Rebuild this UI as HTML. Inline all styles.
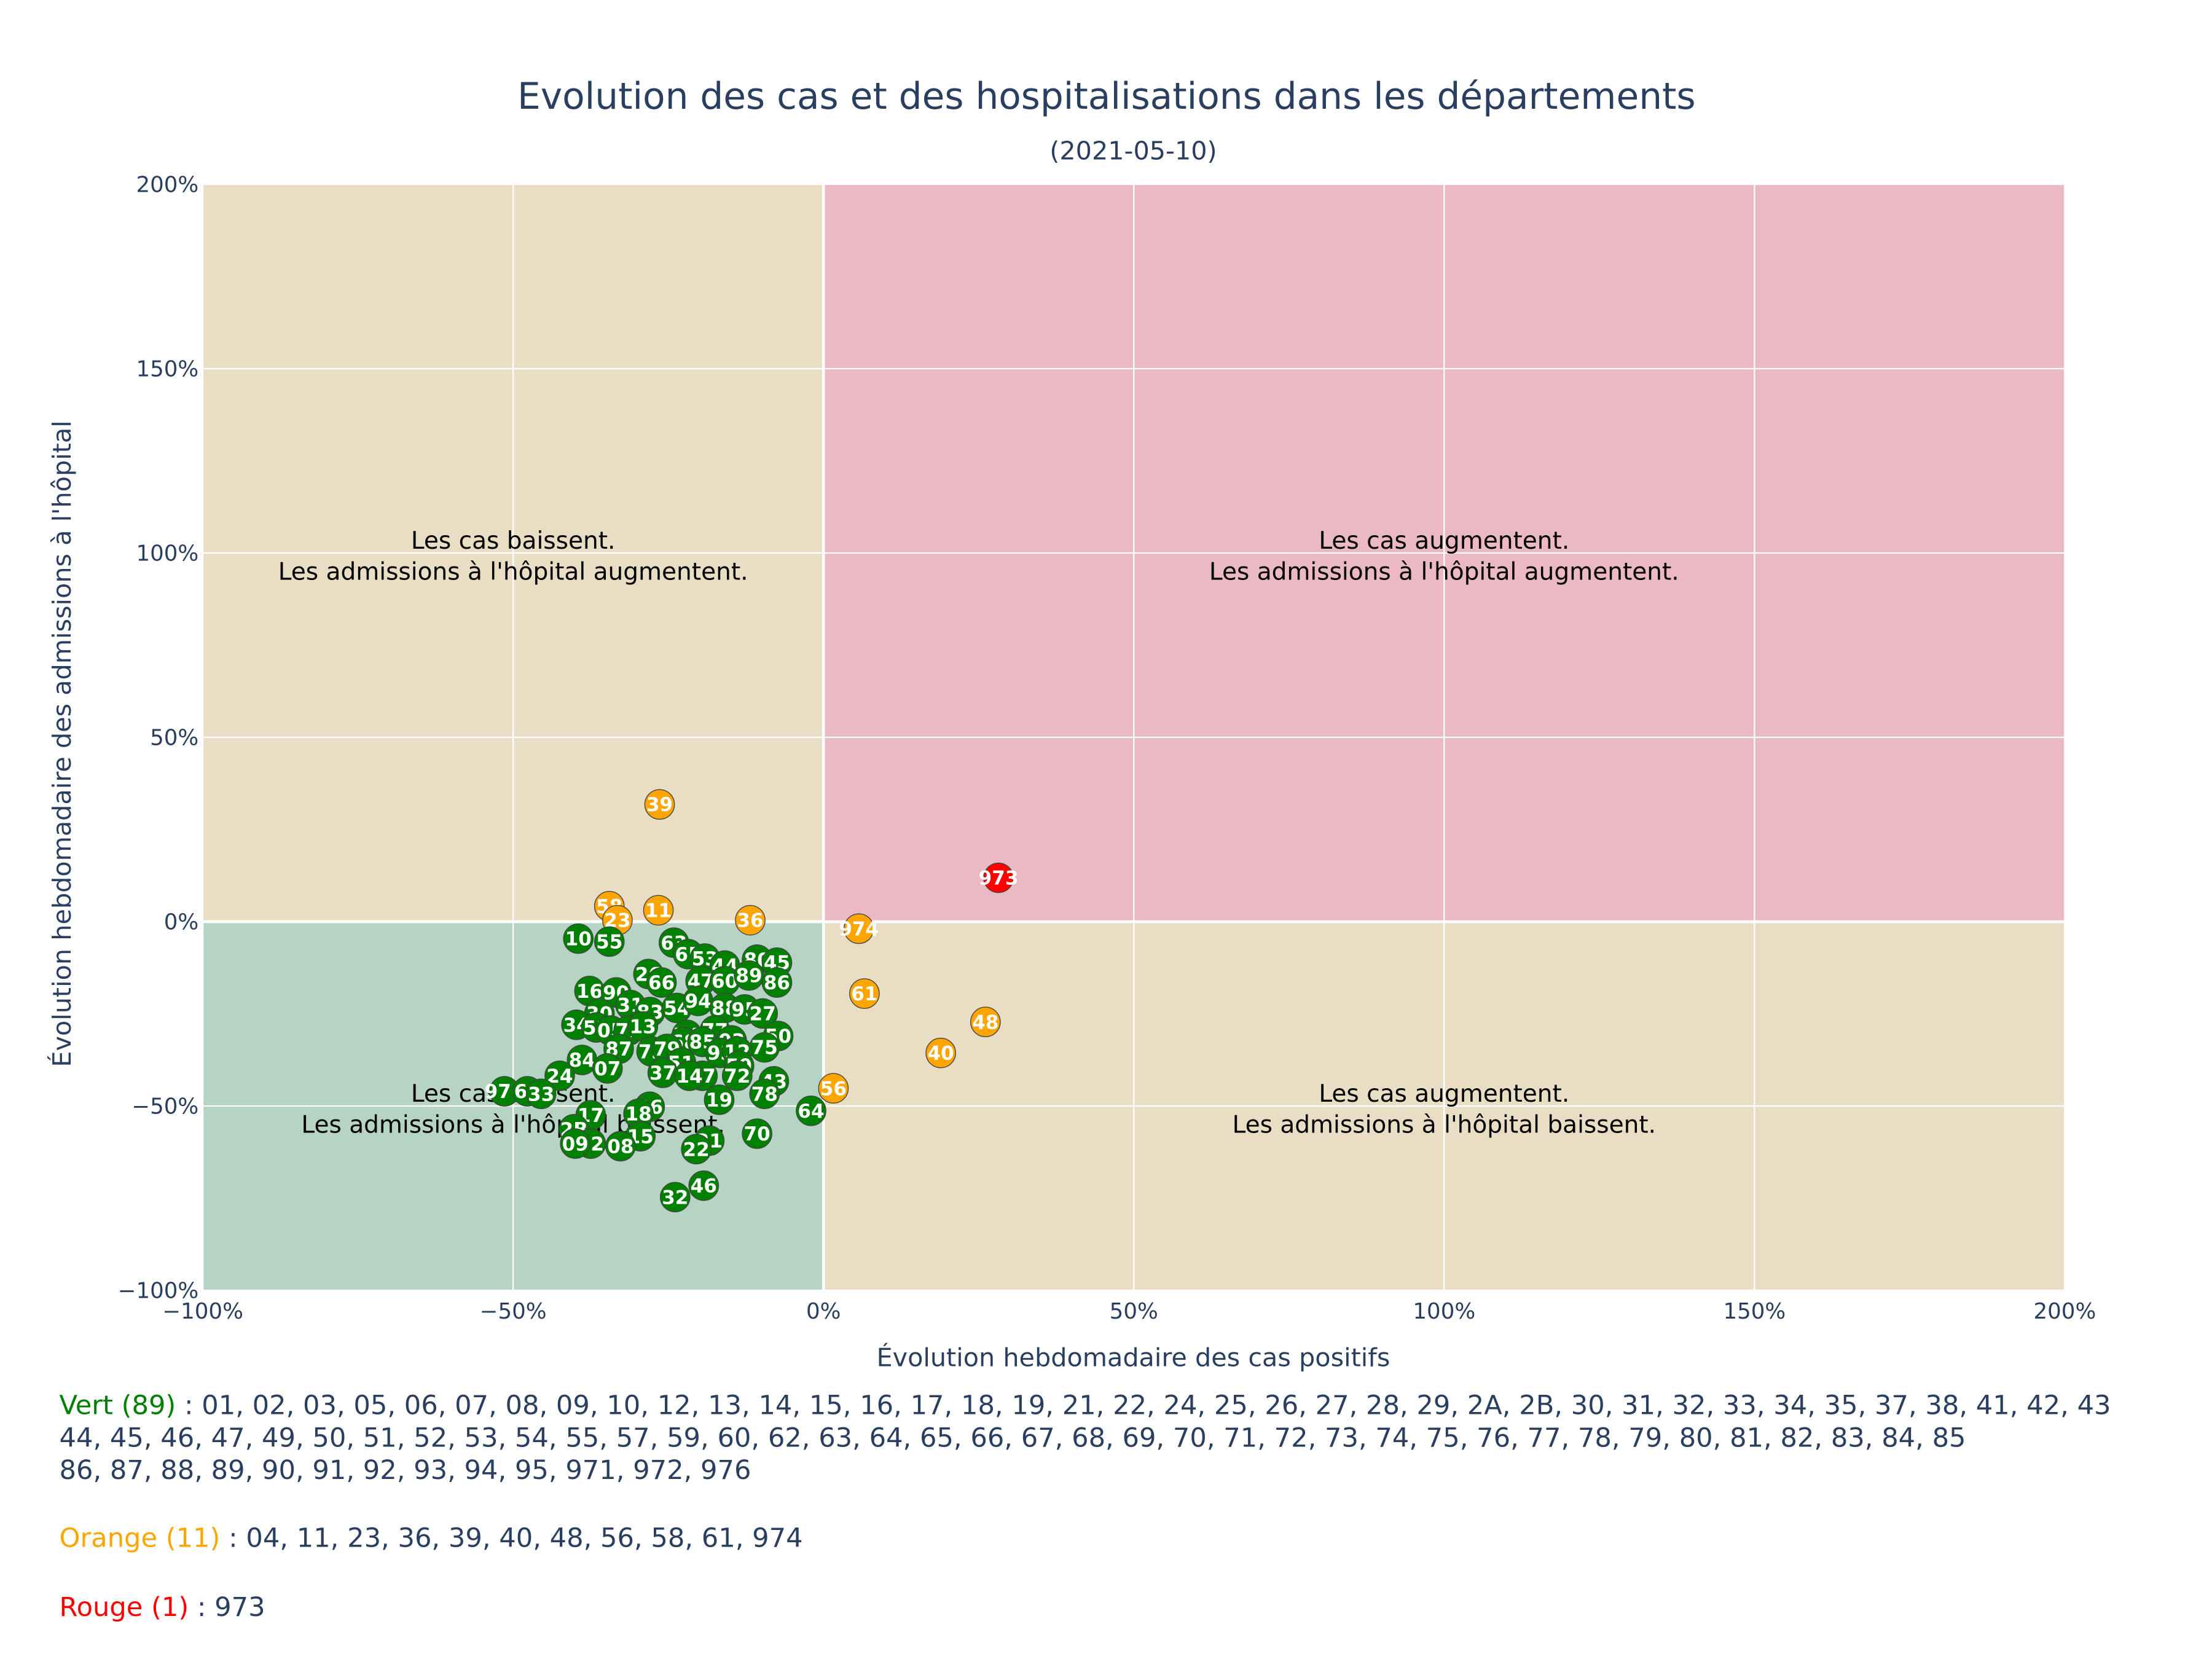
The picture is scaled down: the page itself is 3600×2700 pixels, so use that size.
<!DOCTYPE html>
<html><head><meta charset="utf-8">
<style>html,body{margin:0;padding:0;background:#fff;}svg{display:block;font-family:"DejaVu Sans","Liberation Sans",sans-serif;}</style>
</head><body>
<svg id="chart" width="3600" height="2700" viewBox="0 0 1567.3 1175.5" xmlns="http://www.w3.org/2000/svg">
<text x="784" y="77" text-anchor="middle" font-size="26" fill="#2a3f5f">Evolution des cas et des hospitalisations dans les départements</text>
<text x="803" y="113" text-anchor="middle" font-size="18" fill="#2a3f5f">(2021-05-10)</text>
<g id="bg"></g><g id="grid"></g><g id="annot"></g><g id="marks"></g><g id="axes"></g>
<text x="803" y="968" text-anchor="middle" font-size="18" fill="#2a3f5f">Évolution hebdomadaire des cas positifs</text>
<text transform="translate(50,527) rotate(-90)" text-anchor="middle" font-size="18" fill="#2a3f5f">Évolution hebdomadaire des admissions à l'hôpital</text>
<g font-size="18.8" fill="#2a3f5f">
<text x="42" y="1002"><tspan fill="green">Vert (89)</tspan> : 01, 02, 03, 05, 06, 07, 08, 09, 10, 12, 13, 14, 15, 16, 17, 18, 19, 21, 22, 24, 25, 26, 27, 28, 29, 2A, 2B, 30, 31, 32, 33, 34, 35, 37, 38, 41, 42, 43</text>
<text x="42" y="1025">44, 45, 46, 47, 49, 50, 51, 52, 53, 54, 55, 57, 59, 60, 62, 63, 64, 65, 66, 67, 68, 69, 70, 71, 72, 73, 74, 75, 76, 77, 78, 79, 80, 81, 82, 83, 84, 85</text>
<text x="42" y="1048">86, 87, 88, 89, 90, 91, 92, 93, 94, 95, 971, 972, 976</text>
<text x="42" y="1096"><tspan fill="orange">Orange (11)</tspan> : 04, 11, 23, 36, 39, 40, 48, 56, 58, 61, 974</text>
<text x="42" y="1145"><tspan fill="red">Rouge (1)</tspan> : 973</text>
</g>
</svg>
<script>
const labels=["39","58","11","23","36","974","973","61","48","40","56","10","55","63","65","53","44","80","45","26","66","47","60","89","86","16","90","31","30","83","54","94","88","95","27","34","52","05","71","13","74","77","03","68","85","50","75","87","73","79","93","12","51","59","84","07","24","37","67","14","72","43","976","62","33","78","19","64","17","06","18","70","2B","15","82","08","09","21","22","46","32"];
const xVals=[-26.4,-34.5,-26.6,-33.2,-11.8,5.7,28.2,6.6,26.1,18.9,1.6,-39.5,-34.5,-24.1,-21.8,-19.1,-15.9,-10.7,-7.5,-28.2,-26.1,-19.8,-15.9,-12.0,-7.5,-37.7,-33.4,-31.1,-36.1,-27.95,-23.6,-20.2,-15.9,-12.7,-9.8,-39.8,-36.6,-34.3,-31.4,-29.1,-22.0,-17.5,-14.8,-22.5,-19.5,-7.3,-9.5,-33.0,-27.7,-25.2,-16.6,-13.9,-22.95,-13.6,-38.9,-34.8,-42.5,-25.9,-19.5,-21.6,-13.9,-8.0,-51.4,-47.7,-45.5,-9.5,-16.8,-2.0,-37.5,-28.0,-29.8,-10.7,-40.2,-29.5,-37.5,-32.7,-40.0,-18.4,-20.5,-19.3,-23.9];
const yVals=[31.8,4.2,3.1,0.4,0.4,-1.9,11.9,-19.5,-27.2,-35.6,-45.2,-4.6,-5.4,-5.7,-8.8,-10.0,-11.9,-10.3,-11.1,-14.2,-16.5,-16.1,-16.1,-14.6,-16.5,-18.8,-19.2,-22.6,-24.9,-24.5,-23.4,-21.5,-23.4,-23.8,-24.9,-27.97,-28.7,-29.5,-29.5,-28.4,-30.7,-29.5,-32.2,-32.6,-32.6,-31.0,-34.1,-34.5,-35.2,-34.5,-35.6,-35.2,-38.3,-39.1,-37.5,-39.8,-41.8,-41.0,-41.8,-41.8,-41.8,-43.3,-46.0,-46.0,-46.7,-46.7,-48.3,-51.3,-52.5,-50.2,-52.1,-57.5,-56.3,-58.2,-60.2,-60.9,-60.2,-59.4,-61.7,-71.6,-74.7];
const colorCats=["orange","orange","orange","orange","orange","orange","red","orange","orange","orange","orange"];
const xTicks=[-100,-50,0,50,100,150,200];
const yTicks=[-100,-50,0,50,100,150,200];
const X0=143.7,X1=1463,Y0=914.3,Y1=130.6;
const sx=v=>X0+(v+100)/300*(X1-X0);
const sy=v=>Y0-(v+100)/300*(Y0-Y1);
const NS="http://www.w3.org/2000/svg";
function mk(tag,attrs,parent){const e=document.createElementNS(NS,tag);for(const k in attrs)e.setAttribute(k,attrs[k]);parent.appendChild(e);return e;}
const bg=document.getElementById('bg'),grid=document.getElementById('grid'),annot=document.getElementById('annot'),marks=document.getElementById('marks'),axes=document.getElementById('axes');
const quads=[["quadrant-tan-top-left",-100,0,0,200,"#e9ddc4"],["quadrant-pink-top-right",0,200,0,200,"#ebb9c3"],["quadrant-green-bottom-left",-100,0,-100,0,"#b5d4c3"],["quadrant-tan-bottom-right",0,200,-100,0,"#e9ddc4"]];
quads.forEach(q=>{const r=mk('rect',{x:sx(q[1]),y:sy(q[4]),width:sx(q[2])-sx(q[1]),height:sy(q[3])-sy(q[4]),fill:q[5]},bg);

});
xTicks.forEach(t=>{const l=mk('line',{x1:sx(t),x2:sx(t),y1:Y1,y2:Y0,stroke:'#fff','stroke-width':t===0?2:1},grid);


const tx=mk('text',{x:sx(t),y:Y0+20,'text-anchor':'middle','font-size':15.5,fill:'#2a3f5f'},axes);tx.textContent=(t<0?'\u2212'+(-t):t)+'%';

});
yTicks.forEach(t=>{const l=mk('line',{x1:X0,x2:X1,y1:sy(t),y2:sy(t),stroke:'#fff','stroke-width':t===0?2:1},grid);


const tx=mk('text',{x:X0-3,y:sy(t)+5.5,'text-anchor':'end','font-size':15.5,fill:'#2a3f5f'},axes);tx.textContent=(t<0?'\u2212'+(-t):t)+'%';

});
const notes=[[-50,100,"Les cas baissent.","Les admissions à l'hôpital augmentent."],[100,100,"Les cas augmentent.","Les admissions à l'hôpital augmentent."],[-50,-50,"Les cas baissent.","Les admissions à l'hôpital baissent."],[100,-50,"Les cas augmentent.","Les admissions à l'hôpital baissent."]];
notes.forEach(n=>{const t=mk('text',{x:sx(n[0]),y:sy(n[1])-3,'text-anchor':'middle','font-size':17,fill:'#000'},annot);


mk('tspan',{x:sx(n[0]),dy:0},t).textContent=n[2];mk('tspan',{x:sx(n[0]),dy:22},t).textContent=n[3];});
labels.forEach((lab,i)=>{const c=colorCats[i]||'green';const g=mk('g',{},marks);


mk('circle',{cx:sx(xVals[i]),cy:sy(yVals[i]),r:10.5,fill:c,stroke:'#444','stroke-width':0.6},g);
const t=mk('text',{x:sx(xVals[i]),y:sy(yVals[i])+4.8,'text-anchor':'middle','font-size':13.5,'font-weight':'bold',fill:'#fff'},g);t.textContent=lab;});
</script>
</body></html>
